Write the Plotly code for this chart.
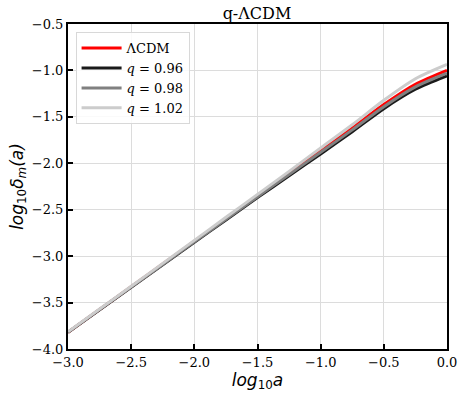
import plotly.graph_objects as go

# log10 a sample points
log_a = [-3.0, -2.75, -2.5, -2.25, -2.0, -1.75, -1.5, -1.25, -1.0, -0.75, -0.5, -0.25, 0.0]

# log10 delta_m(a)
lcdm = [-3.82, -3.575, -3.33, -3.085, -2.84, -2.595, -2.35, -2.107, -1.865, -1.62, -1.368, -1.15, -1.00]
q096 = [-3.82, -3.578, -3.335, -3.093, -2.85, -2.61, -2.37, -2.134, -1.90, -1.66, -1.412, -1.203, -1.06]
q098 = [-3.82, -3.576, -3.332, -3.089, -2.845, -2.602, -2.36, -2.12, -1.882, -1.64, -1.39, -1.177, -1.03]
q102 = [-3.815, -3.57, -3.325, -3.078, -2.83, -2.582, -2.335, -2.087, -1.835, -1.585, -1.322, -1.09, -0.935]

names = ["ΛCDM", "<i>q</i> = 0.96", "<i>q</i> = 0.98", "<i>q</i> = 1.02"]
colors = ["#ff0000", "#1a1a1a", "#808080", "#cccccc"]
series = [lcdm, q096, q098, q102]

fig = go.Figure()
for name, col, ys in zip(names, colors, series):
    fig.add_trace(go.Scatter(x=log_a, y=ys, mode="lines", name=name,
                             line=dict(color=col, width=3, shape="spline", smoothing=0.8)))

serif = "DejaVu Serif"
axis_common = dict(
    showgrid=True, gridcolor="#dcdcdc", gridwidth=1,
    showline=True, linecolor="black", linewidth=2, mirror=True,
    ticks="inside", ticklen=5, tickwidth=1.5, tickcolor="black",
    tickfont=dict(family=serif, size=13, color="black"),
    zeroline=False, automargin=False,
)

fig.update_layout(
    width=463, height=397,
    margin=dict(l=68, r=16, t=24, b=48),
    paper_bgcolor="white", plot_bgcolor="white",
    title=dict(text="q-ΛCDM", x=0.555, xanchor="center", y=0.967, yanchor="middle",
               font=dict(family=serif, size=16, color="black")),
    xaxis=dict(range=[-3, 0], dtick=0.5, tickformat=".1f",
               title=dict(text="<i>log</i><sub>10</sub><i>a</i>", standoff=0,
                          font=dict(family="DejaVu Sans", size=17, color="black")),
               **axis_common),
    yaxis=dict(range=[-4, -0.5], dtick=0.5, tickformat=".1f",
               title=dict(text="<i>log</i><sub>10</sub><i>δ</i><sub><i>m</i></sub><i>(a)</i>", standoff=4,
                          font=dict(family="DejaVu Sans", size=17, color="black")),
               **axis_common),
    legend=dict(x=0.02, y=0.975, xanchor="left", yanchor="top",
                bgcolor="rgba(255,255,255,0.85)", bordercolor="#d8d8d8", borderwidth=1,
                font=dict(family=serif, size=13, color="black"),
                tracegroupgap=0, itemwidth=40),
    showlegend=True,
)

# drop the browser's default body margin so the figure sits at the page corner
fig.write_html("out.html", config={"displayModeBar": False},
               post_script="document.body.style.margin='0';")
